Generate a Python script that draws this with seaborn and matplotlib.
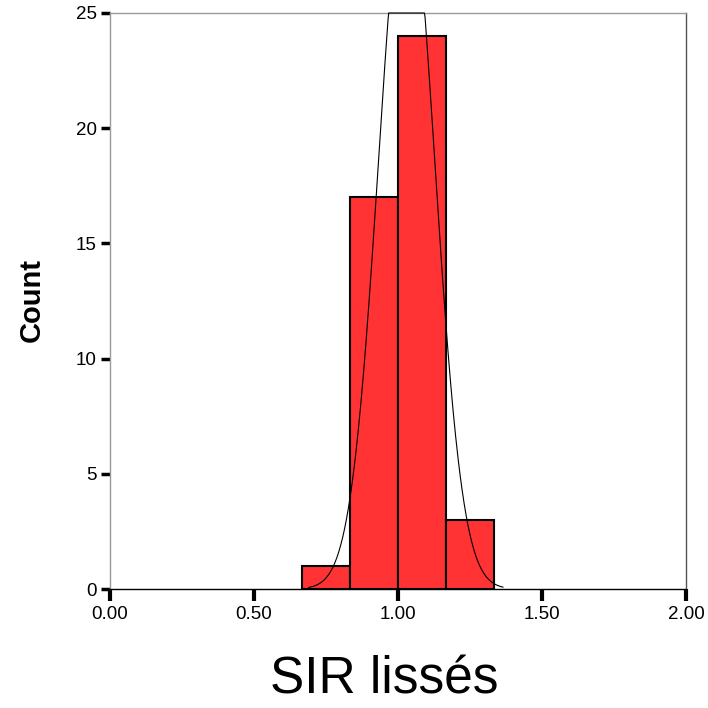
import numpy as np
import pandas as pd
import matplotlib
matplotlib.use("Agg")
import matplotlib.pyplot as plt
import seaborn as sns

# Data
bin_edges = [2/3, 5/6, 1.0, 7/6, 4/3]
bin_centers = [0.75, 0.9167, 1.0833, 1.25]
counts = [1, 17, 24, 3]
curve_mean = 1.03
curve_sd = 0.097
x_ticks = [0.0, 0.5, 1.0, 1.5, 2.0]
x_ticklabels = ["0.00", "0.50", "1.00", "1.50", "2.00"]
y_ticks = [0, 5, 10, 15, 20, 25]

sns.set_style("white")
plt.rcParams['font.family'] = ['Liberation Sans', 'DejaVu Sans']
plt.rcParams['text.color'] = 'black'
plt.rcParams['axes.labelcolor'] = 'black'
plt.rcParams['xtick.color'] = 'black'
plt.rcParams['ytick.color'] = 'black'

fig = plt.figure(figsize=(7.08, 7.08), dpi=100)
ax = fig.add_axes([110/708, 119/708, 576/708, 576/708])

df = pd.DataFrame({"x": bin_centers, "n": counts})
sns.histplot(data=df, x="x", weights="n", bins=bin_edges, ax=ax,
             color="#FF3334", alpha=1.0, edgecolor="black", linewidth=1.5)

# Normal curve overlay
N = sum(counts)
w = bin_edges[1] - bin_edges[0]
xs = np.linspace(0.69, 1.365, 300)
ys = N * w * np.exp(-0.5 * ((xs - curve_mean) / curve_sd) ** 2) / (curve_sd * np.sqrt(2 * np.pi))
ys = np.minimum(ys, 25)
sns.lineplot(x=xs, y=ys, ax=ax, color="black", linewidth=0.8, sort=False)
for ln in ax.lines:
    ln.set_clip_on(False)
    ln.set_zorder(5)

ax.set_xlim(0, 2)
ax.set_ylim(0, 25)
ax.set_xticks(x_ticks)
ax.set_xticklabels(x_ticklabels)
ax.set_yticks(y_ticks)
ax.tick_params(axis="x", direction="out", length=8.5, width=3, color="black",
               labelsize=13.5, pad=4, bottom=True, labelcolor="black")
ax.tick_params(axis="y", direction="out", length=6.5, width=2.5, color="black",
               labelsize=13.5, pad=3, left=True, labelcolor="black")

ax.spines["bottom"].set_color("black")
ax.spines["bottom"].set_linewidth(1.0)
ax.spines["left"].set_color("#999999")
ax.spines["left"].set_linewidth(1.0)
ax.spines["top"].set_color("#999999")
ax.spines["top"].set_linewidth(1.0)
ax.spines["right"].set_color("#555555")
ax.spines["right"].set_linewidth(1.0)

ax.set_xlabel("SIR lissés", fontsize=37, color="black", va="baseline")
ax.xaxis.set_label_coords((384 - 110) / 576, (589 - 694) / 576)
ax.set_ylabel("Count", fontsize=21, fontweight="bold", color="black", va="center")
ax.yaxis.set_label_coords((32 - 110) / 576, (589 - 300) / 576)

fig.savefig("out.png", dpi=100)
